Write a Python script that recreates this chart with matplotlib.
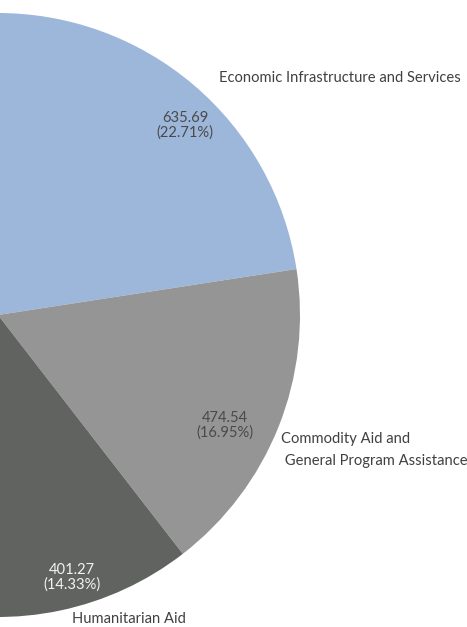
import matplotlib.pyplot as plt

# values (only the right-hand part of the pie is visible)
categories = ['Economic Infrastructure and Services',
              'Commodity Aid and\n General Program Assistance',
              'Humanitarian Aid']
values = [635.69, 474.54, 401.27]
shares = [22.71, 16.95, 14.33]
rest_share = 100 - sum(shares)   # remaining slices, outside the visible area

colors = ['#9db7db', '#959595', '#616361']
pct_colors = ['#4a4a4a', '#4a4a4a', '#f2f2f2']
txt = '#404040'

W, H = 467, 627
fig = plt.figure(figsize=(W / 100, H / 100), dpi=100)
ax = fig.add_axes([0, 0, 1, 1])

total = sum(values) / (sum(shares) / 100)
sizes = values + [total * rest_share / 100]
wedges, _ = ax.pie(sizes, colors=colors + ['none'], startangle=90.5,
                   counterclock=False, center=(-2, 312), radius=302,
                   wedgeprops=dict(linewidth=0))
ax.set_xlim(0, W)
ax.set_ylim(0, H)
ax.axis('off')

plt.rcParams['font.family'] = ['Lato', 'DejaVu Sans']
fs = 10.6

# value labels
pct_pos = [(185, 502), (225, 202), (72, 50)]
for (x, y), v, s, c in zip(pct_pos, values, shares, pct_colors):
    ax.text(x, y, f'{v:.2f}\n({s:.2f}%)', ha='center', va='center',
            fontsize=fs, color=c, linespacing=1.05)

# category labels
ax.text(340, 549, categories[0], ha='center', va='center', fontsize=fs, color=txt)
ax.text(281, 177, categories[1], ha='left', va='center', fontsize=fs,
        color=txt, linespacing=1.75)
ax.text(129, 8, categories[2], ha='center', va='center', fontsize=fs, color=txt)

fig.savefig('out.png', dpi=100)
